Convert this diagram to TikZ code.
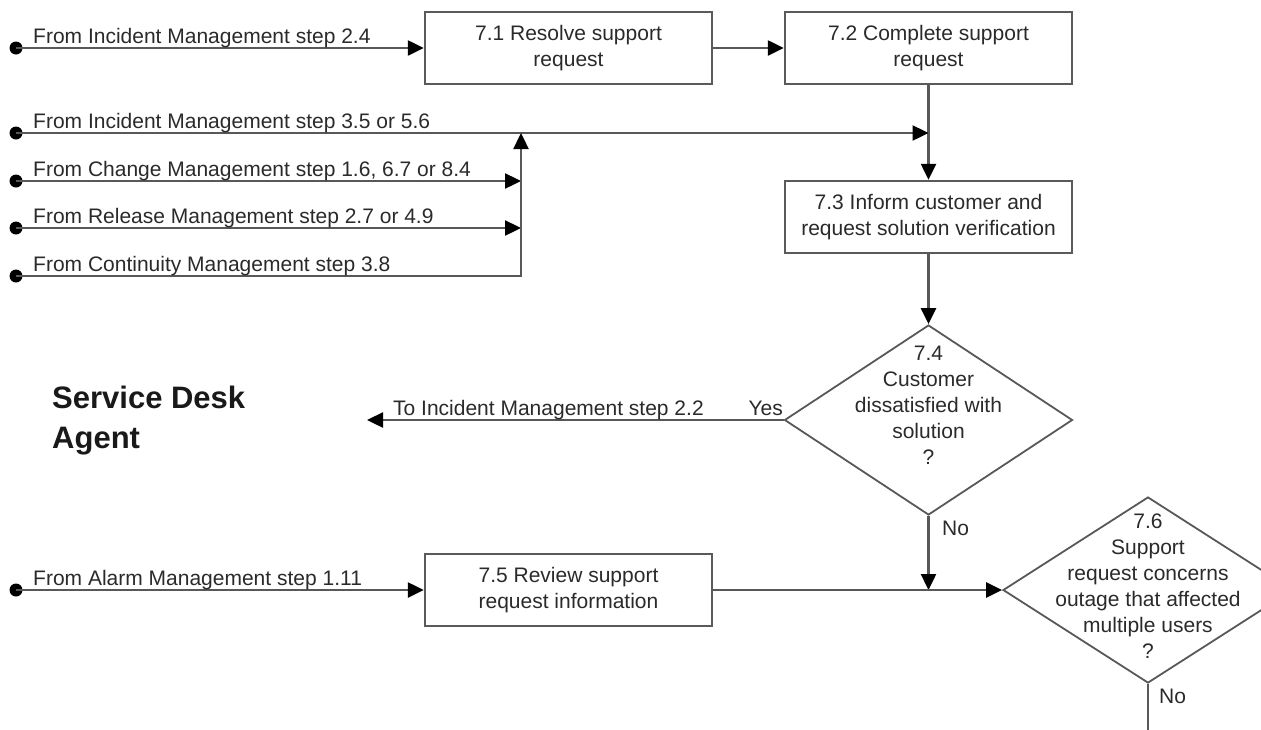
\documentclass[tikz,border=0pt]{standalone}
\usepackage{fontspec}
\setmainfont{Liberation Sans}
\usetikzlibrary{arrows.meta,shapes.geometric}
\definecolor{linec}{HTML}{585858}
\definecolor{boxc}{HTML}{5A5A5A}
\definecolor{txtc}{HTML}{2A2A2A}
\newcommand\diagtxt{\fontsize{21}{26}\selectfont}
\newcommand\roletxt{\fontsize{31}{40}\selectfont\bfseries}
\begin{document}
\begin{tikzpicture}[x=1pt,y=-1pt,
  line/.style={draw=linec, line width=2.4pt},
  flow/.style={line, -{Triangle[length=16pt,width=15pt,color=black,fill=black]}},
  box/.style={draw=boxc, line width=2.4pt, minimum width=287pt, minimum height=72pt,
              align=center, inner sep=0pt, font=\diagtxt, text=txtc},
  dec/.style={diamond, draw=linec, line width=1.8pt, inner sep=0pt},
  dectext/.style={align=center, inner sep=0pt, font=\diagtxt, text=txtc},
  lbl/.style={font=\diagtxt, text=txtc, inner sep=0pt},
  src/.style={circle, fill=black, minimum size=13pt, inner sep=0pt},
]
\useasboundingbox (0,0) rectangle (1261,729);
\clip (0,0) rectangle (1261,729);

% role title
\node[anchor=west, align=left, inner sep=0pt, font=\roletxt, text=black!90] (role) at (52,421)
  {Service Desk\\Agent};

% process steps
\node[box] (b71) at (568.5,48)  {7.1 Resolve support\\request};
\node[box] (b72) at (928.5,48)  {7.2 Complete support\\request};
\node[box] (b73) at (928.5,217) {7.3 Inform customer and\\request solution verification};
\node[box] (b75) at (568.5,590) {7.5 Review support\\request information};

% decisions
\node[dec, minimum width=288pt, minimum height=190pt] (d74) at (928.5,420) {};
\node[dectext] (t74) at (928.5,405) {7.4\\Customer\\dissatisfied with\\solution\\?};
\node[dec, minimum width=290pt, minimum height=186pt] (d76) at (1148,590) {};
\node[dectext] (t76) at (1148,586) {7.6\\Support\\request concerns\\outage that affected\\multiple users\\?};

% incoming flow start points
\node[src] (s1) at (16,48)  {};
\node[src] (s2) at (16,133) {};
\node[src] (s3) at (16,181) {};
\node[src] (s4) at (16,228) {};
\node[src] (s5) at (16,276) {};
\node[src] (s6) at (16,590) {};

% merge points
\coordinate (m2) at (521,133);
\coordinate (m3) at (521,181);
\coordinate (m4) at (521,228);
\coordinate (m5) at (521,276);
\coordinate (j1) at (b72.south |- s2);
\coordinate (j2) at (d74.south |- b75.east);
\coordinate (toim) at (367,420);
\coordinate (down) at (1148,760);

% connectors
\draw[flow] (s1.center) -- (b71.west);
\draw[flow] (b71.east) -- (b72.west);
\draw[flow] (b72.south) -- (b73.north);
\draw[flow] (s2.center) -- (j1);
\draw[flow] (s3.center) -- (m3);
\draw[flow] (s4.center) -- (m4);
\draw[flow] (s5.center) -- (m5) -- (m2);
\draw[flow] (b73.south) -- (d74.north);
\draw[flow] (d74.west) -- (toim);
\draw[flow] (d74.south) -- (j2);
\draw[flow] (s6.center) -- (b75.west);
\draw[flow] (b75.east) -- (d76.west);
\draw[line] (d76.south) -- (down);

% connector labels
\node[lbl, anchor=base west] (l1) at (33,43)  {From Incident Management step 2.4};
\node[lbl, anchor=base west] (l2) at (33,128) {From Incident Management step 3.5 or 5.6};
\node[lbl, anchor=base west] (l3) at (33,176) {From Change Management step 1.6, 6.7 or 8.4};
\node[lbl, anchor=base west] (l4) at (33,223) {From Release Management step 2.7 or 4.9};
\node[lbl, anchor=base west] (l5) at (33,271) {From Continuity Management step 3.8};
\node[lbl, anchor=base west] (l6) at (33,585) {From Alarm Management step 1.11};
\node[lbl, anchor=base west] (l7) at (393,415) {To Incident Management step 2.2};
\node[lbl, anchor=base east] (yes) at (783,415) {Yes};
\node[lbl, anchor=base west] (no1) at (942,535) {No};
\node[lbl, anchor=base west] (no2) at (1159,703) {No};
\end{tikzpicture}
\end{document}
